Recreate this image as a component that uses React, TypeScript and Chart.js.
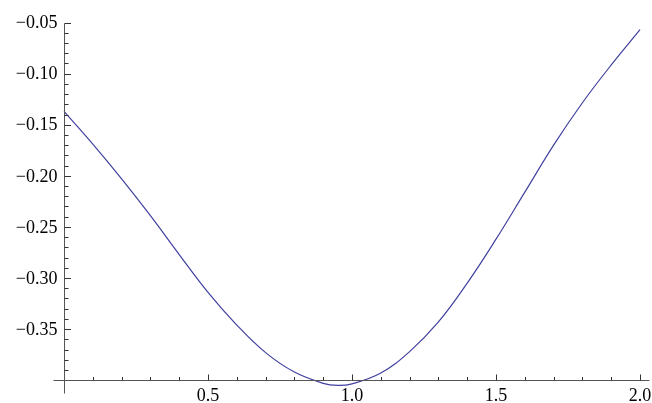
import React, { useEffect, useRef } from "react";
import { Chart, registerables } from "chart.js";

Chart.register(...registerables);

// Sampled curve
const xValues = [0, 0.1, 0.2, 0.3, 0.4, 0.5, 0.6, 0.7, 0.8, 0.9, 0.95, 1.0, 1.1, 1.2, 1.3, 1.4, 1.5, 1.6, 1.7, 1.8, 1.9, 2.0];
const yValues = [-0.137, -0.169, -0.203, -0.239, -0.277, -0.314, -0.346, -0.373, -0.392, -0.403, -0.405, -0.4035, -0.393, -0.372, -0.343, -0.305, -0.262, -0.216, -0.170, -0.1285, -0.0915, -0.057];

// Axis ticks
const xMajorTicks = [0.5, 1.0, 1.5, 2.0];
const xTickLabels = ["0.5", "1.0", "1.5", "2.0"];
const xMinorTicks = [0.1, 0.2, 0.3, 0.4, 0.6, 0.7, 0.8, 0.9, 1.1, 1.2, 1.3, 1.4, 1.6, 1.7, 1.8, 1.9];
const yMajorTicks = [-0.05, -0.1, -0.15, -0.2, -0.25, -0.3, -0.35];
const yTickLabels = ["\u22120.05", "\u22120.10", "\u22120.15", "\u22120.20", "\u22120.25", "\u22120.30", "\u22120.35"];
const yMinorTicks = [
  -0.06, -0.07, -0.08, -0.09, -0.11, -0.12, -0.13, -0.14, -0.16, -0.17, -0.18, -0.19,
  -0.21, -0.22, -0.23, -0.24, -0.26, -0.27, -0.28, -0.29, -0.31, -0.32, -0.33, -0.34,
  -0.36, -0.37, -0.38, -0.39,
];

// Where the axes cross and how far their lines run
const axisOriginX = 0;
const axisOriginY = -0.4;
const xAxisSpan = [-0.038, 2.03];
const yAxisSpan = [-0.412, -0.05];

const FONT_FAMILY = "Liberation Serif";
const FONT_SIZE = 18;

const axesPlugin = {
  id: "crossedAxes",
  afterDraw(chart: any) {
    const ctx = chart.ctx as CanvasRenderingContext2D;
    const xs = chart.scales.x;
    const ys = chart.scales.y;
    const px = (v: number) => Math.round(xs.getPixelForValue(v)) + 0.5;
    const py = (v: number) => Math.round(ys.getPixelForValue(v)) + 0.5;
    const ax = px(axisOriginX);
    const ay = py(axisOriginY);

    ctx.save();
    ctx.lineWidth = 1;
    ctx.strokeStyle = "#555555";
    ctx.beginPath();
    ctx.moveTo(px(xAxisSpan[0]), ay);
    ctx.lineTo(px(xAxisSpan[1]), ay);
    ctx.moveTo(ax, py(yAxisSpan[0]));
    ctx.lineTo(ax, py(yAxisSpan[1]));
    ctx.stroke();

    ctx.strokeStyle = "#333333";
    ctx.beginPath();
    xMajorTicks.forEach((v) => {
      const x = px(v);
      ctx.moveTo(x, ay);
      ctx.lineTo(x, ay - 6);
    });
    xMinorTicks.forEach((v) => {
      const x = px(v);
      ctx.moveTo(x, ay);
      ctx.lineTo(x, ay - 3.5);
    });
    yMajorTicks.forEach((v) => {
      const y = py(v);
      ctx.moveTo(ax, y);
      ctx.lineTo(ax + 6.5, y);
    });
    yMinorTicks.forEach((v) => {
      const y = py(v);
      ctx.moveTo(ax, y);
      ctx.lineTo(ax + 4, y);
    });
    ctx.stroke();

    ctx.fillStyle = "#000000";
    ctx.font = `${FONT_SIZE}px '${FONT_FAMILY}', 'DejaVu Serif', serif`;
    ctx.textAlign = "center";
    ctx.textBaseline = "alphabetic";
    xMajorTicks.forEach((v, i) => {
      ctx.fillText(xTickLabels[i], xs.getPixelForValue(v), ay + 20);
    });
    ctx.textAlign = "right";
    ctx.textBaseline = "middle";
    yMajorTicks.forEach((v, i) => {
      ctx.fillText(yTickLabels[i], ax - 7, ys.getPixelForValue(v) + 1);
    });
    ctx.restore();
  },
};

export default function App() {
  const canvasRef = useRef<HTMLCanvasElement | null>(null);

  useEffect(() => {
    if (!canvasRef.current) return;
    const chart = new Chart(canvasRef.current, {
      type: "line",
      data: {
        datasets: [
          {
            data: xValues.map((x, i) => ({ x, y: yValues[i] })),
            borderColor: "#4040a0",
            borderWidth: 1.2,
            pointRadius: 0,
            fill: false,
            tension: 0.4,
          },
        ],
      },
      options: {
        responsive: false,
        animation: false,
        devicePixelRatio: 1,
        layout: { padding: { left: 52.5, right: 0.46, top: 21.5, bottom: 10.5 } },
        plugins: { legend: { display: false }, tooltip: { enabled: false } },
        scales: {
          x: { type: "linear", min: -0.04, max: 2.04, display: false },
          y: { type: "linear", min: -0.412, max: -0.049, display: false },
        },
      },
      plugins: [axesPlugin],
    });
    return () => chart.destroy();
  }, []);

  return (
    <div style={{ position: "absolute", left: 0, top: 0, width: 652, height: 403, background: "#ffffff" }}>
      <canvas ref={canvasRef} width={652} height={403} />
    </div>
  );
}
